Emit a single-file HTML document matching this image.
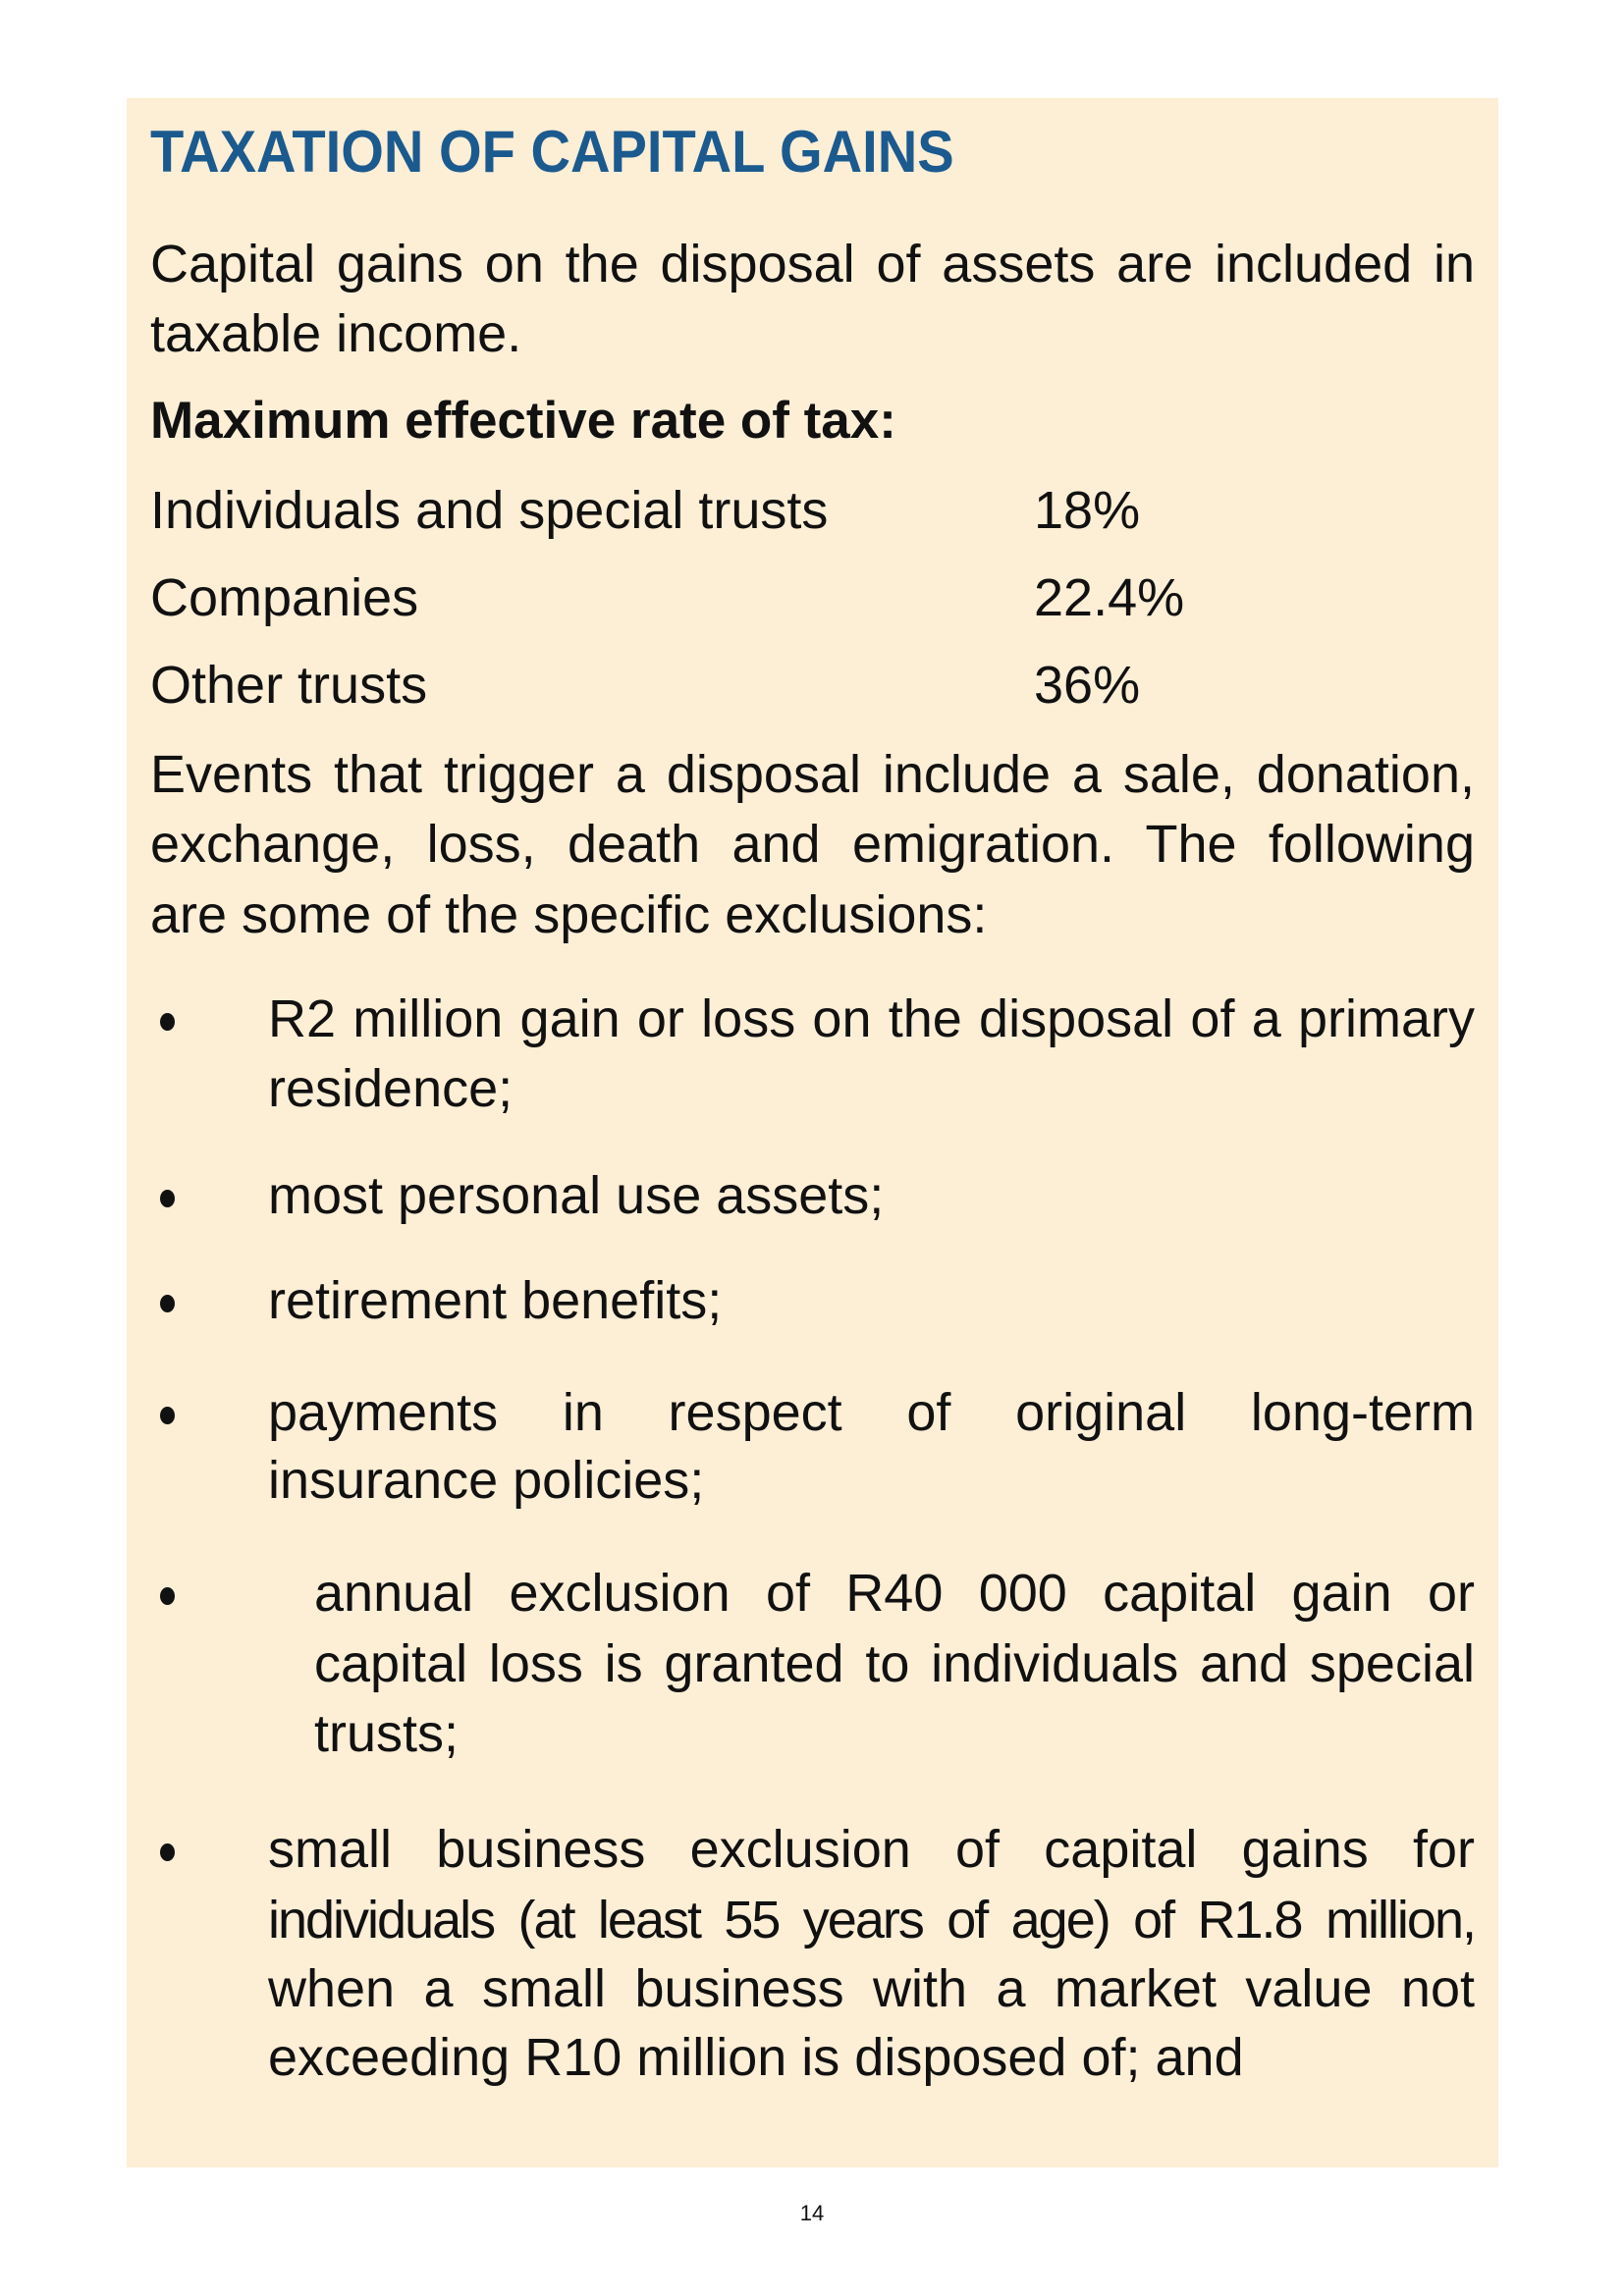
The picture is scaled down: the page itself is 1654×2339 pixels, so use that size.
<!DOCTYPE html>
<html><head><meta charset="utf-8"><style>
html,body{margin:0;padding:0;background:#fff}
body{width:1654px;height:2339px;position:relative;overflow:hidden;font-family:"Liberation Sans",sans-serif;color:#111}
#box{position:absolute;left:129px;top:100px;width:1397px;height:2108px;background:#fdeed6}
.l{position:absolute;font-size:54px;line-height:54px;white-space:nowrap}
.j{text-align:justify;text-align-last:justify}
.t{font-size:60px;line-height:60px;font-weight:bold;color:#1b5a8e;transform:scaleX(0.935);transform-origin:left}
.b{font-weight:bold;font-size:53px;line-height:53px}
.dot{position:absolute;width:15px;height:18px;border-radius:50%;background:#111;left:163px}
</style></head><body>
<div id="box"></div>
<div class="l t" style="left:153px;top:125px">TAXATION OF CAPITAL GAINS</div>
<div class="l j" style="left:153px;width:1349px;top:242px">Capital gains on the disposal of assets are included in</div>
<div class="l" style="left:153px;top:313px">taxable income.</div>
<div class="l b" style="left:153px;top:402px">Maximum effective rate of tax:</div>
<div class="l" style="left:153px;top:493px">Individuals and special trusts</div>
<div class="l" style="left:1053px;top:493px">18%</div>
<div class="l" style="left:153px;top:582px">Companies</div>
<div class="l" style="left:1053px;top:582px">22.4%</div>
<div class="l" style="left:153px;top:671px">Other trusts</div>
<div class="l" style="left:1053px;top:671px">36%</div>
<div class="l j" style="left:153px;width:1349px;top:762px">Events that trigger a disposal include a sale, donation,</div>
<div class="l j" style="left:153px;width:1349px;top:833px">exchange, loss, death and emigration. The following</div>
<div class="l" style="left:153px;top:905px">are some of the specific exclusions:</div>

<div class="dot" style="top:1032px"></div>
<div class="l j" style="left:273px;width:1229px;top:1011px">R2 million gain or loss on the disposal of a primary</div>
<div class="l" style="left:273px;top:1082px">residence;</div>
<div class="dot" style="top:1212px"></div>
<div class="l" style="left:273px;top:1191px">most personal use assets;</div>
<div class="dot" style="top:1319px"></div>
<div class="l" style="left:273px;top:1298px">retirement benefits;</div>
<div class="dot" style="top:1433px"></div>
<div class="l j" style="left:273px;width:1229px;top:1412px">payments in respect of original long-term</div>
<div class="l" style="left:273px;top:1481px">insurance policies;</div>
<div class="dot" style="top:1617px"></div>
<div class="l j" style="left:320px;width:1182px;top:1596px">annual exclusion of R40 000 capital gain or</div>
<div class="l j" style="left:320px;width:1182px;top:1668px">capital loss is granted to individuals and special</div>
<div class="l" style="left:320px;top:1739px">trusts;</div>
<div class="dot" style="top:1878px"></div>
<div class="l j" style="left:273px;width:1229px;top:1857px">small business exclusion of capital gains for</div>
<div class="l j" style="left:273px;width:1229px;top:1929px;letter-spacing:-2px">individuals (at least 55 years of age) of R1.8 million,</div>
<div class="l j" style="left:273px;width:1229px;top:1999px">when a small business with a market value not</div>
<div class="l" style="left:273px;top:2069px">exceeding R10 million is disposed of; and</div>
<div class="l" style="left:0;width:1654px;text-align:center;top:2244px;font-size:22px;line-height:22px">14</div>
</body></html>
